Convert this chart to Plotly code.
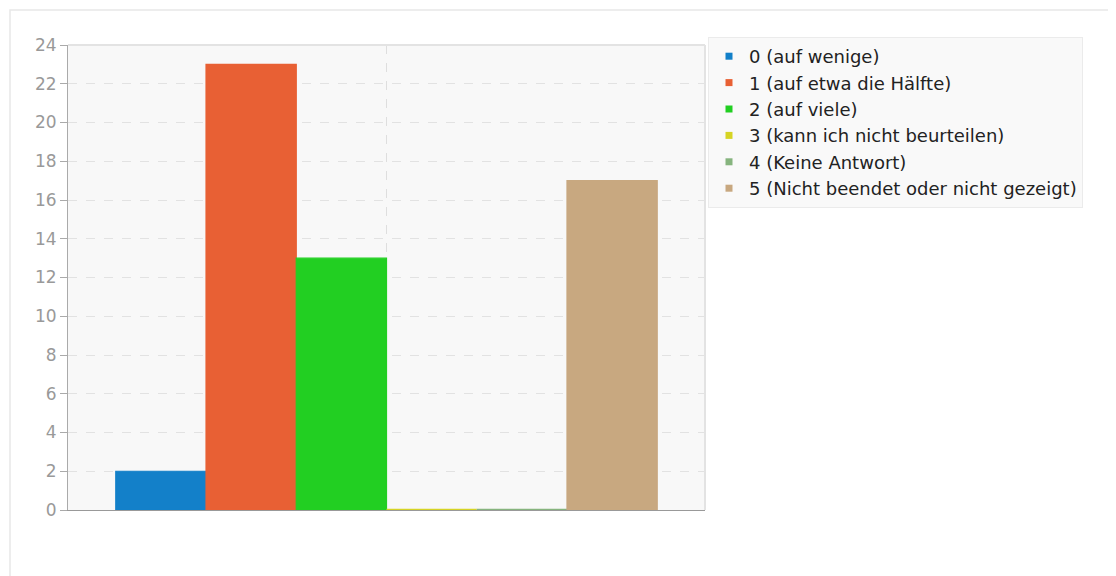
import plotly.graph_objects as go

categories = [""]
series_names = [
    "0 (auf wenige)",
    "1 (auf etwa die Hälfte)",
    "2 (auf viele)",
    "3 (kann ich nicht beurteilen)",
    "4 (Keine Antwort)",
    "5 (Nicht beendet oder nicht gezeigt)",
]
series_values = [2, 23, 13, 0, 0, 17]
series_colors = ["#1380c9", "#e86034", "#22cf22", "#d6d424", "#86b47e", "#c8a880"]
y_ticks = list(range(0, 25, 2))

OFF = 8  # page body margin
fig = go.Figure()
for name, val, col in zip(series_names, series_values, series_colors):
    fig.add_trace(go.Bar(
        x=categories, y=[val], name=name, showlegend=False, legendgroup=name,
        marker=dict(color=col, line=dict(color=col, width=2.5 if val == 0 else 1.2)),
    ))
for name, col in zip(series_names, series_colors):
    fig.add_trace(go.Scatter(
        x=[None], y=[None], mode="markers", name=name, legendgroup=name,
        marker=dict(symbol="square", size=7, color=col),
    ))

W, H = 1116, 576
L, R, T, B = 68 - OFF, 705 - OFF, 45 - OFF, 510 - OFF

def px_x(p):
    return (p - OFF - L) / (R - L)

def px_y(p):
    return (B - (p - OFF)) / (B - T)

fig.update_layout(
    width=W, height=H,
    margin=dict(l=L, r=W - R, t=T, b=H - B),
    paper_bgcolor="white",
    plot_bgcolor="#f8f8f8",
    barmode="group", bargap=0.15, bargroupgap=0,
    font=dict(family="DejaVu Sans", size=14, color="#222"),
    showlegend=True,
    legend=dict(
        x=px_x(708), y=px_y(37), xanchor="left", yanchor="top",
        bgcolor="#f9f9f9", bordercolor="#ebebeb", borderwidth=1,
        font=dict(family="DejaVu Sans", size=18, color="#222"),
        tracegroupgap=0, itemwidth=30,
    ),
    xaxis=dict(
        showticklabels=False, showgrid=True, gridcolor="#dedede", griddash="dash",
        showline=True, linecolor="#999", mirror=False, zeroline=False, ticks="",
        layer="below traces",
    ),
    yaxis=dict(
        range=[0, 24], tickvals=y_ticks, showgrid=True, gridcolor="#e2e2e2",
        griddash="dash", zeroline=False, showline=True, linecolor="#aaa",
        ticks="outside", tickcolor="#aaa", ticklen=7,
        tickfont=dict(family="DejaVu Sans", size=17, color="#999"),
        layer="below traces",
    ),
    shapes=[
        dict(type="rect", xref="paper", yref="paper", layer="below",
             x0=px_x(10), x1=px_x(1130),
             y0=px_y(600), y1=px_y(10),
             line=dict(color="#e8e8e8", width=1.5), fillcolor="rgba(0,0,0,0)"),
        dict(type="line", xref="paper", yref="paper", x0=0, x1=1, y0=1, y1=1,
             line=dict(color="#e3e3e3", width=2)),
        dict(type="line", xref="paper", yref="paper", x0=1, x1=1, y0=0, y1=1,
             line=dict(color="#e3e3e3", width=2)),
    ],
)

fig.write_html("out.html")
